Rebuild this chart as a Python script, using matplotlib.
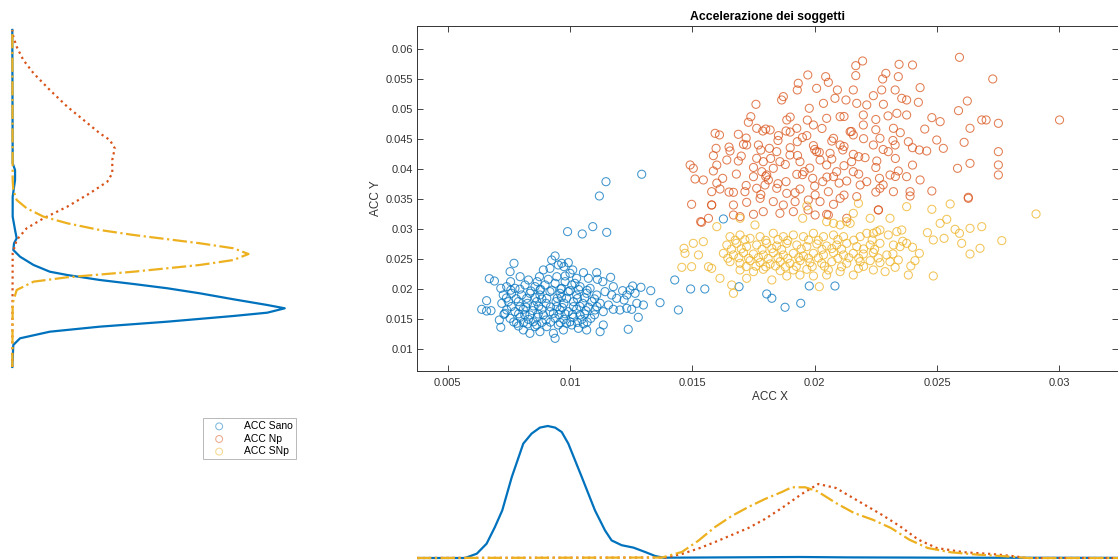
import numpy as np
import matplotlib.pyplot as plt
from matplotlib.ticker import FuncFormatter

plt.rcParams['font.family'] = ['Liberation Sans', 'DejaVu Sans']

# colori di default MATLAB
c_sano = '#0072BD'
c_np = '#D95319'
c_snp = '#EDB120'

# ---- dati ----
# ACC Sano
sano_pts = [
    (0.00639, 0.01666), (0.00659, 0.01638), (0.00677, 0.01644), (0.00659, 0.01810), (0.00670, 0.02177),
    (0.00691, 0.02138), (0.00717, 0.02016), (0.00711, 0.01488), (0.00717, 0.01366), (0.00734, 0.01599),
    (0.00755, 0.02294), (0.00771, 0.02433), (0.00757, 0.02127), (0.00782, 0.01433), (0.00796, 0.02210),
    (0.00809, 0.01322), (0.00830, 0.02155), (0.00836, 0.01266), (0.00857, 0.01377), (0.00866, 0.02127),
    (0.00875, 0.02210), (0.00891, 0.02322), (0.00918, 0.02349), (0.00925, 0.02488), (0.00939, 0.02555),
    (0.00952, 0.02405), (0.00966, 0.02433), (0.00975, 0.02377), (0.00993, 0.02444), (0.01011, 0.02322),
    (0.01027, 0.02183), (0.01055, 0.02277), (0.01075, 0.02183), (0.01109, 0.02277), (0.01112, 0.02166),
    (0.01134, 0.02127), (0.01166, 0.02199), (0.01177, 0.02044), (0.01170, 0.01905), (0.01191, 0.01849),
    (0.01215, 0.01977), (0.01221, 0.01822), (0.01232, 0.01905), (0.01245, 0.01988), (0.01256, 0.02055),
    (0.01266, 0.01933), (0.01290, 0.02033), (0.01330, 0.01977), (0.01232, 0.01683), (0.01252, 0.01666),
    (0.01204, 0.01655), (0.01177, 0.01666), (0.01273, 0.01766), (0.01300, 0.01738), (0.01368, 0.01777),
    (0.01443, 0.01655), (0.01279, 0.01533), (0.01238, 0.01333), (0.01136, 0.01405), (0.01123, 0.01294),
    (0.01068, 0.01322), (0.01034, 0.01349), (0.01007, 0.01405), (0.00973, 0.01322), (0.00932, 0.01266),
    (0.00939, 0.01183), (0.00877, 0.01294), (0.00905, 0.01377),
    # nucleo denso
    (0.00741, 0.02044), (0.00775, 0.02016), (0.00816, 0.02072), (0.00857, 0.02044), (0.00898, 0.02072),
    (0.00939, 0.02099), (0.00980, 0.02127), (0.01007, 0.02072), (0.01041, 0.02044), (0.01082, 0.02016),
    (0.00727, 0.01905), (0.00761, 0.01933), (0.00802, 0.01905), (0.00836, 0.01933), (0.00877, 0.01905),
    (0.00918, 0.01961), (0.00959, 0.01933), (0.00993, 0.01961), (0.01027, 0.01905), (0.01068, 0.01933),
    (0.01109, 0.01905), (0.01143, 0.01961),
    (0.00721, 0.01766), (0.00748, 0.01794), (0.00789, 0.01794), (0.00826, 0.01766), (0.00864, 0.01794),
    (0.00902, 0.01766), (0.00943, 0.01794), (0.00975, 0.01766), (0.01014, 0.01794), (0.01052, 0.01766),
    (0.01089, 0.01794), (0.01123, 0.01766), (0.01157, 0.01738),
    (0.00741, 0.01655), (0.00775, 0.01627), (0.00809, 0.01666), (0.00847, 0.01644), (0.00884, 0.01666),
    (0.00918, 0.01627), (0.00959, 0.01655), (0.00993, 0.01627), (0.01027, 0.01666), (0.01065, 0.01644),
    (0.01102, 0.01655), (0.01136, 0.01627),
    (0.00755, 0.01516), (0.00796, 0.01533), (0.00830, 0.01499), (0.00866, 0.01533), (0.00902, 0.01488),
    (0.00939, 0.01516), (0.00975, 0.01499), (0.01014, 0.01533), (0.01048, 0.01499), (0.01085, 0.01516),
    (0.00789, 0.01388), (0.00826, 0.01422), (0.00864, 0.01405), (0.00952, 0.01405), (0.00986, 0.01433),
    (0.01055, 0.01422),
    (0.00823, 0.01849), (0.00850, 0.01722), (0.00905, 0.01849), (0.00946, 0.01711), (0.00986, 0.01849),
    (0.00891, 0.01572), (0.00932, 0.01599), (0.00836, 0.01572), (0.01014, 0.01711), (0.01041, 0.01572),
    (0.00796, 0.01711), (0.00877, 0.01988), (0.00966, 0.02016), (0.01000, 0.02266), (0.01020, 0.02099),
    (0.00946, 0.02210), (0.00911, 0.02166), (0.00980, 0.02222),
    (0.00758, 0.01985), (0.00795, 0.02002), (0.00840, 0.01972), (0.00880, 0.01998), (0.00925, 0.01985),
    (0.00962, 0.02005), (0.01000, 0.01978), (0.01035, 0.01995), (0.01070, 0.01982),
    (0.00740, 0.01855), (0.00780, 0.01842), (0.00858, 0.01860), (0.00885, 0.01838), (0.00948, 0.01852),
    (0.00965, 0.01865), (0.01030, 0.01845), (0.01060, 0.01858), (0.01100, 0.01840),
    (0.00760, 0.01712), (0.00820, 0.01700), (0.00872, 0.01718), (0.00920, 0.01705), (0.00968, 0.01695),
    (0.01040, 0.01715), (0.01075, 0.01702), (0.01110, 0.01712),
    (0.00730, 0.01582), (0.00790, 0.01590), (0.00815, 0.01575), (0.00870, 0.01588), (0.00955, 0.01578),
    (0.00980, 0.01592), (0.01010, 0.01580), (0.01060, 0.01588), (0.01100, 0.01575),
    (0.00770, 0.01455), (0.00810, 0.01445), (0.00850, 0.01458), (0.00885, 0.01448), (0.00920, 0.01452),
    (0.00960, 0.01445), (0.01000, 0.01458), (0.01030, 0.01448), (0.01070, 0.01455),
    # punti isolati
    (0.00990, 0.02961), (0.01050, 0.02922), (0.01093, 0.03044), (0.01150, 0.02949), (0.01120, 0.03555),
    (0.01147, 0.03793), (0.01293, 0.03917), (0.01428, 0.02155), (0.01493, 0.02005), (0.01551, 0.02005),
    (0.01627, 0.03172), (0.01691, 0.02043), (0.01804, 0.01922), (0.01825, 0.01850), (0.01879, 0.01700),
    (0.01943, 0.01767), (0.01978, 0.02055), (0.02083, 0.02055),
]

# ACC Np
np_pts = [
    (0.02592, 0.05866), (0.02728, 0.05505), (0.03001, 0.04822), (0.02196, 0.05805), (0.02168, 0.05727),
    (0.02345, 0.05749), (0.02400, 0.05738), (0.01972, 0.05572), (0.02045, 0.05544), (0.02168, 0.05561),
    (0.02278, 0.05505), (0.02291, 0.05599), (0.02342, 0.05544), (0.02431, 0.05361), (0.01933, 0.05433),
    (0.01929, 0.05322), (0.02008, 0.05349), (0.02056, 0.05449), (0.02093, 0.05322), (0.02158, 0.05322),
    (0.02240, 0.05227), (0.02274, 0.05322), (0.02329, 0.05322), (0.02356, 0.05183), (0.01872, 0.05211),
    (0.01865, 0.05155), (0.01760, 0.05083), (0.01978, 0.05016), (0.02036, 0.05099), (0.02083, 0.05183),
    (0.02128, 0.05155), (0.02172, 0.05099), (0.02213, 0.05072), (0.02281, 0.05083), (0.02376, 0.05155),
    (0.02424, 0.05116), (0.02479, 0.04861), (0.02513, 0.04794), (0.02588, 0.04977), (0.02624, 0.05138),
    (0.02683, 0.04822), (0.02701, 0.04822), (0.02751, 0.04766), (0.02635, 0.04683), (0.02611, 0.04449),
    (0.02751, 0.04294), (0.02751, 0.04072), (0.02751, 0.03905), (0.02635, 0.04099), (0.02584, 0.04016),
    (0.02526, 0.04349), (0.02499, 0.04488), (0.02458, 0.04305), (0.02428, 0.04322), (0.02383, 0.04460),
    (0.02329, 0.04405), (0.02301, 0.04294), (0.02254, 0.04138), (0.02206, 0.04194), (0.02151, 0.04127),
    (0.02158, 0.04249), (0.02115, 0.04322), (0.02063, 0.04266), (0.02019, 0.04283), (0.01995, 0.04394),
    (0.01968, 0.04561), (0.01929, 0.04460), (0.01883, 0.04638), (0.01852, 0.04561), (0.01818, 0.04655),
    (0.01788, 0.04638), (0.01739, 0.04877), (0.01729, 0.04783), (0.01688, 0.04583), (0.01593, 0.04599),
    (0.01611, 0.04572), (0.01654, 0.04305), (0.01709, 0.04416), (0.01770, 0.04405), (0.01815, 0.04349),
    (0.01597, 0.04349), (0.01586, 0.04227), (0.01641, 0.04155), (0.01688, 0.04138), (0.01491, 0.04072),
    (0.01504, 0.04016), (0.01511, 0.03838), (0.01545, 0.03822), (0.01586, 0.03972), (0.01624, 0.03849),
    (0.01750, 0.03877), (0.01784, 0.03960), (0.01811, 0.03822), (0.01845, 0.03683), (0.01883, 0.03794),
    (0.01927, 0.03916), (0.01957, 0.03960), (0.01992, 0.03849), (0.02033, 0.03794), (0.02077, 0.03877),
    (0.02090, 0.03960), (0.02131, 0.03805), (0.02186, 0.03738), (0.02158, 0.03960), (0.02213, 0.03794),
    (0.02265, 0.03849), (0.02308, 0.03905), (0.02342, 0.03972), (0.02267, 0.03683), (0.02322, 0.03627),
    (0.02390, 0.03627), (0.02431, 0.03822), (0.02479, 0.03638), (0.02628, 0.03516), (0.02376, 0.03877),
    (0.01579, 0.03627), (0.01613, 0.03671), (0.01668, 0.03616), (0.01715, 0.03627), (0.01763, 0.03683),
    (0.01797, 0.03738), (0.01886, 0.03599), (0.01940, 0.03671), (0.02002, 0.03572), (0.02056, 0.03627),
    (0.02104, 0.03516), (0.02172, 0.03544), (0.01579, 0.03405), (0.01668, 0.03405), (0.01722, 0.03449),
    (0.01777, 0.03516), (0.01831, 0.03461), (0.01872, 0.03405), (0.01920, 0.03461), (0.01974, 0.03488),
    (0.02022, 0.03461), (0.02077, 0.03416), (0.01497, 0.03416), (0.01534, 0.03127), (0.01566, 0.03183),
    (0.01695, 0.03211), (0.01750, 0.03249), (0.01790, 0.03294), (0.01858, 0.03266), (0.01913, 0.03294),
    (0.02002, 0.03238), (0.02049, 0.03249), (0.02131, 0.03183), (0.02261, 0.03322),
    (0.01763, 0.04183), (0.01804, 0.03905), (0.01858, 0.04127), (0.01899, 0.04238), (0.01940, 0.04127),
    (0.02022, 0.04155), (0.02049, 0.04072), (0.02104, 0.04405), (0.02145, 0.04627), (0.02199, 0.04738),
    (0.02240, 0.04405), (0.02267, 0.04516), (0.02322, 0.04683), (0.02336, 0.04933), (0.02376, 0.04905),
    (0.02199, 0.04905), (0.02104, 0.04877), (0.02049, 0.04849), (0.01995, 0.04738), (0.01927, 0.04683),
    (0.01886, 0.04822), (0.01845, 0.04294), (0.01763, 0.04683), (0.01722, 0.04405), (0.01790, 0.04127),
    (0.01831, 0.04016), (0.02008, 0.04294), (0.02077, 0.04516), (0.02158, 0.04572),
    (0.01538, 0.03117), (0.01579, 0.03405), (0.01668, 0.03238), (0.01973, 0.03322), (0.02056, 0.03238),
    (0.02260, 0.03322), (0.02390, 0.03555), (0.02628, 0.03533),
    # nucleo denso
    (0.0190, 0.0487), (0.0197, 0.0482), (0.0212, 0.0488), (0.0225, 0.0483), (0.0230, 0.0489),
    (0.0180, 0.0467), (0.0190, 0.0462), (0.0203, 0.0468), (0.0215, 0.0463), (0.0225, 0.0466),
    (0.0235, 0.0461), (0.0245, 0.0467),
    (0.0172, 0.0452), (0.0185, 0.0448), (0.0195, 0.0453), (0.0207, 0.0447), (0.0220, 0.0451),
    (0.0232, 0.0448),
    (0.0165, 0.0437), (0.0178, 0.0432), (0.0190, 0.0436), (0.0200, 0.0433), (0.0212, 0.0438),
    (0.0228, 0.0433), (0.0240, 0.0436),
    (0.0170, 0.0422), (0.0182, 0.0418), (0.0193, 0.0423), (0.0207, 0.0417), (0.0218, 0.0421),
    (0.0233, 0.0418),
    (0.0160, 0.0407), (0.0175, 0.0403), (0.0188, 0.0408), (0.0198, 0.0402), (0.0212, 0.0406),
    (0.0225, 0.0403), (0.0240, 0.0407),
    (0.0168, 0.0392), (0.0180, 0.0388), (0.0195, 0.0391), (0.0205, 0.0387), (0.0218, 0.0392),
    (0.0233, 0.0388),
    (0.0160, 0.0377), (0.0172, 0.0373), (0.0185, 0.0376), (0.0200, 0.0372), (0.0210, 0.0377),
    (0.0228, 0.0374),
    (0.0165, 0.0362), (0.0178, 0.0358), (0.0192, 0.0361), (0.0212, 0.0357), (0.0225, 0.0362),
]

# ACC SNp
snp_pts = [
    (0.02905, 0.03255), (0.02765, 0.02811), (0.02676, 0.02683), (0.02635, 0.02588), (0.02683, 0.03044),
    (0.02635, 0.03016), (0.02592, 0.02933), (0.02601, 0.02766), (0.02574, 0.02999), (0.02540, 0.03166),
    (0.02554, 0.03422), (0.02479, 0.03333), (0.02461, 0.02944), (0.02485, 0.02822), (0.02529, 0.02849),
    (0.02513, 0.03099), (0.02428, 0.02599), (0.02410, 0.02477), (0.02393, 0.02388), (0.02485, 0.02222),
    (0.02383, 0.02238), (0.02376, 0.03377), (0.02308, 0.03183), (0.02227, 0.03183), (0.02158, 0.03266),
    (0.02131, 0.03127), (0.02179, 0.03433), (0.01968, 0.03388), (0.01951, 0.03183), (0.01756, 0.03072),
    (0.01695, 0.03183), (0.01600, 0.03044), (0.01545, 0.02794), (0.01504, 0.02766), (0.01466, 0.02683),
    (0.01470, 0.02599), (0.01457, 0.02366), (0.01497, 0.02377), (0.01525, 0.02572), (0.01566, 0.02377),
    (0.01579, 0.02349), (0.01613, 0.02183), (0.01661, 0.02072), (0.01668, 0.01933), (0.01722, 0.02183),
    (0.01825, 0.02155), (0.01886, 0.02222), (0.01940, 0.02238), (0.01995, 0.02222), (0.02019, 0.02044),
    (0.02049, 0.02238), (0.02104, 0.02294), (0.02158, 0.02238), (0.02179, 0.02349), (0.02240, 0.02322),
    (0.02288, 0.02294), (0.02329, 0.02366), (0.02342, 0.02488), (0.02349, 0.02711), (0.02376, 0.02766),
    (0.02336, 0.02961), (0.02356, 0.02988), (0.02267, 0.02988), (0.02240, 0.02933), (0.02186, 0.02877),
    (0.02145, 0.03099), (0.02104, 0.03072), (0.02077, 0.03099), (0.02049, 0.03127),
    (0.01654, 0.02877), (0.01695, 0.02905), (0.01736, 0.02849), (0.01777, 0.02877), (0.01831, 0.02933),
    (0.01872, 0.02877), (0.01913, 0.02905), (0.01954, 0.02877), (0.01995, 0.02933), (0.02036, 0.02877),
    (0.02077, 0.02905), (0.02118, 0.02877), (0.02213, 0.02933), (0.02254, 0.02961), (0.02301, 0.02905),
    (0.01641, 0.02738), (0.01681, 0.02766), (0.01722, 0.02711), (0.01763, 0.02738), (0.01804, 0.02766),
    (0.01845, 0.02722), (0.01886, 0.02766), (0.01927, 0.02738), (0.01968, 0.02711), (0.02009, 0.02755),
    (0.02049, 0.02722), (0.02090, 0.02738), (0.02131, 0.02766), (0.02172, 0.02711), (0.02227, 0.02738),
    (0.02267, 0.02766), (0.02322, 0.02738),
    (0.01627, 0.02599), (0.01668, 0.02572), (0.01709, 0.02610), (0.01750, 0.02588), (0.01790, 0.02572),
    (0.01831, 0.02610), (0.01872, 0.02572), (0.01913, 0.02599), (0.01954, 0.02555), (0.01995, 0.02599),
    (0.02036, 0.02572), (0.02077, 0.02610), (0.02118, 0.02572), (0.02158, 0.02599), (0.02199, 0.02588),
    (0.02240, 0.02610), (0.02295, 0.02572),
    (0.01654, 0.02460), (0.01695, 0.02433), (0.01736, 0.02477), (0.01777, 0.02444), (0.01818, 0.02422),
    (0.01859, 0.02460), (0.01899, 0.02433), (0.01940, 0.02477), (0.01981, 0.02444), (0.02029, 0.02433),
    (0.02070, 0.02460), (0.02131, 0.02433), (0.02186, 0.02460), (0.02227, 0.02477), (0.02267, 0.02444),
    (0.02308, 0.02460),
    (0.01695, 0.02322), (0.01750, 0.02294), (0.01790, 0.02333), (0.01859, 0.02310), (0.01913, 0.02322),
    (0.01968, 0.02333), (0.02056, 0.02322),
    (0.01675, 0.02818), (0.01715, 0.02825), (0.01800, 0.02815), (0.01850, 0.02828), (0.01890, 0.02812),
    (0.01975, 0.02822), (0.02015, 0.02815), (0.02095, 0.02828), (0.02160, 0.02818), (0.02235, 0.02822),
    (0.01660, 0.02668), (0.01700, 0.02675), (0.01785, 0.02665), (0.01825, 0.02678), (0.01865, 0.02662),
    (0.01945, 0.02672), (0.02030, 0.02665), (0.02070, 0.02678), (0.02110, 0.02668), (0.02200, 0.02672),
    (0.02245, 0.02665),
    (0.01645, 0.02518), (0.01690, 0.02525), (0.01730, 0.02515), (0.01770, 0.02528), (0.01810, 0.02512),
    (0.01850, 0.02522), (0.01890, 0.02515), (0.01935, 0.02528), (0.01975, 0.02518), (0.02015, 0.02522),
    (0.02095, 0.02515), (0.02140, 0.02525), (0.02180, 0.02518), (0.02260, 0.02522),
    (0.01720, 0.02378), (0.01760, 0.02385), (0.01800, 0.02375), (0.01840, 0.02388), (0.01880, 0.02372),
    (0.01925, 0.02382), (0.01990, 0.02378), (0.02040, 0.02385), (0.02110, 0.02375), (0.02200, 0.02382),
    (0.02360, 0.02800), (0.02320, 0.02590), (0.02400, 0.02700),
]

# densità marginale su X (pannello in basso)
kx_sano = [0.00375, 0.00571, 0.00619, 0.00659, 0.00693, 0.00723, 0.00762, 0.00809, 0.00843, 0.00877,
           0.00909, 0.00939, 0.00966, 0.00993, 0.01048, 0.01102, 0.01143, 0.01170, 0.01211, 0.01259,
           0.01307, 0.01348, 0.01381, 0.01531, 0.01777, 0.01940, 0.02145, 0.02554, 0.03240]
kd_sano = [0, 0, 10.8, 35.8, 77.5, 119, 202.5, 286, 311, 326,
           330, 326, 315, 286, 202.5, 119, 69, 44, 32, 26,
           15, 5, 0.8, 1.2, 2, 2.5, 1.5, 0.8, 0.3]
kx_np = [0.00375, 0.01392, 0.01457, 0.01531, 0.01593, 0.01661, 0.01729, 0.01797, 0.01866, 0.01947,
         0.02015, 0.02087, 0.02180, 0.02274, 0.02349, 0.02424, 0.02499, 0.02612, 0.02724, 0.02818,
         0.02864, 0.03240]
kd_np = [0, 1.2, 10, 25, 40, 57.5, 75, 97.5, 125, 160,
         185, 175, 141.8, 108.3, 79.3, 45.8, 25, 14.3, 10, 4.3,
         0, 0]
kx_snp = [0.00375, 0.01376, 0.01457, 0.01523, 0.01593, 0.01661, 0.01729, 0.01797, 0.01866, 0.01906,
          0.01961, 0.02011, 0.02087, 0.02161, 0.02237, 0.02312, 0.02387, 0.02462, 0.02556, 0.02668,
          0.02780, 0.02874, 0.03240]
kd_snp = [0, 1.2, 15, 42.5, 77.5, 105, 127.5, 147.5, 165, 176.8,
          176.8, 166.8, 137.5, 112.5, 95.8, 75, 45.8, 25, 14.3, 8.3,
          4.3, 0, 0]

# densità marginale su Y (pannello a sinistra)
ky_sano = [0.00705, 0.01072, 0.01183, 0.01293, 0.01377, 0.01460, 0.01555, 0.01610, 0.01683, 0.01738,
           0.01833, 0.01933, 0.02017, 0.02088, 0.02155, 0.02238, 0.02293, 0.02405, 0.02543, 0.02655,
           0.02767, 0.02850, 0.02988, 0.03210, 0.03543, 0.03822, 0.03988, 0.04100, 0.06322]
kdy_sano = [0, 0.8, 6.2, 30, 70, 124, 177, 204, 218, 204,
            177, 150, 124, 97, 70, 44, 30, 17, 6.2, 0.8,
            1.4, 3.5, 2.2, 0.3, 0.3, 2.2, 2.2, 0.3, 0]
ky_np = [0.00705, 0.02600, 0.02822, 0.03017, 0.03183, 0.03377, 0.03600, 0.03793, 0.03933, 0.04155,
         0.04350, 0.04488, 0.04600, 0.04822, 0.05043, 0.05322, 0.05600, 0.05822, 0.06043, 0.06210,
         0.06322]
kdy_np = [0, 0.3, 3.5, 11.5, 25, 44, 62, 76, 80, 80,
          82, 78, 70, 57, 44, 30, 17, 8.8, 3.5, 0.8,
          0]
ky_snp = [0.00705, 0.01767, 0.01988, 0.02127, 0.02200, 0.02293, 0.02405, 0.02488, 0.02588, 0.02683,
          0.02767, 0.02905, 0.02988, 0.03100, 0.03210, 0.03350, 0.03488, 0.03655, 0.03822, 0.06322]
kdy_snp = [0, 0.3, 3.5, 17, 44, 97, 150, 177, 189, 177,
           150, 97, 70, 44, 25, 11.5, 3.5, 0.8, 0.3, 0]

labels = ['ACC Sano', 'ACC Np', 'ACC SNp']
x_ticks = [0.005, 0.01, 0.015, 0.02, 0.025, 0.03]
y_ticks = [0.01, 0.015, 0.02, 0.025, 0.03, 0.035, 0.04, 0.045, 0.05, 0.055, 0.06]
xlim = (0.003745, 0.0324)
ylim = (0.00638, 0.06388)

W, H = 1118, 560
fig = plt.figure(figsize=(W / 100, H / 100), dpi=100)

# ---- scatter principale ----
ax = fig.add_axes([417 / W, 1 - 371 / H, 701 / W, 345 / H])
handles = []
for pts, col, lab in [(sano_pts, c_sano, labels[0]), (np_pts, c_np, labels[1]), (snp_pts, c_snp, labels[2])]:
    p = np.array(pts)
    h = ax.scatter(p[:, 0], p[:, 1], s=34, facecolors='none', edgecolors=col,
                   linewidths=0.75, alpha=0.75, label=lab)
    handles.append(h)

ax.set_xlim(xlim)
ax.set_ylim(ylim)
ax.set_xticks(x_ticks)
ax.set_yticks(y_ticks)
fmt = FuncFormatter(lambda v, pos: '%g' % v)
ax.xaxis.set_major_formatter(fmt)
ax.yaxis.set_major_formatter(fmt)
ax.tick_params(direction='in', length=4, width=0.6, top=True, right=True,
               labelsize=8, colors='#262626', labelcolor='#333333')
ax.tick_params(axis='x', pad=5)
ax.tick_params(axis='y', pad=3)
for s in ax.spines.values():
    s.set_linewidth(0.7)
    s.set_color('#333333')
ax.set_title('Accelerazione dei soggetti', fontsize=8.8, fontweight='bold', pad=4)
ax.set_xlabel('ACC X', fontsize=8.5, color='#333333')
ax.set_ylabel('ACC Y', fontsize=8.5, color='#333333')
ax.xaxis.set_label_coords(0.5036, -0.058)
ax.yaxis.set_label_coords(-0.05, 0.5)

# ---- densità a sinistra ----
axl = fig.add_axes([10 / W, 1 - 371 / H, 290 / W, 345 / H])
axl.plot(kdy_sano, ky_sano, color=c_sano, lw=1.6, ls='-')
axl.plot(kdy_np, ky_np, color=c_np, lw=1.6, ls=':')
axl.plot(kdy_snp, ky_snp, color=c_snp, lw=1.6, ls='-.')
axl.set_ylim(ylim)
axl.set_xlim(-1.84, 230.2)
axl.axis('off')

# ---- densità in basso ----
axb = fig.add_axes([417 / W, 0, 701 / W, 145 / H])
axb.plot(kx_sano, kd_sano, color=c_sano, lw=1.6, ls='-')
axb.plot(kx_np, kd_np, color=c_np, lw=1.6, ls=':')
axb.plot(kx_snp, kd_snp, color=c_snp, lw=1.6, ls='-.')
axb.set_xlim(xlim)
axb.set_ylim(-5, 357.5)
axb.axis('off')

# ---- legenda ----
leg = fig.legend(handles, labels, loc='upper left', bbox_to_anchor=(203 / W, 1 - 418 / H),
                 fontsize=7.5, frameon=True, fancybox=False, edgecolor='#999999',
                 borderpad=0.3, handletextpad=1.1, labelspacing=0.25, handlelength=2.5,
                 borderaxespad=0, markerscale=0.85)
leg.get_frame().set_linewidth(0.6)
for lh in leg.legend_handles:
    lh.set_alpha(0.5)

fig.savefig('out.png', dpi=100)
